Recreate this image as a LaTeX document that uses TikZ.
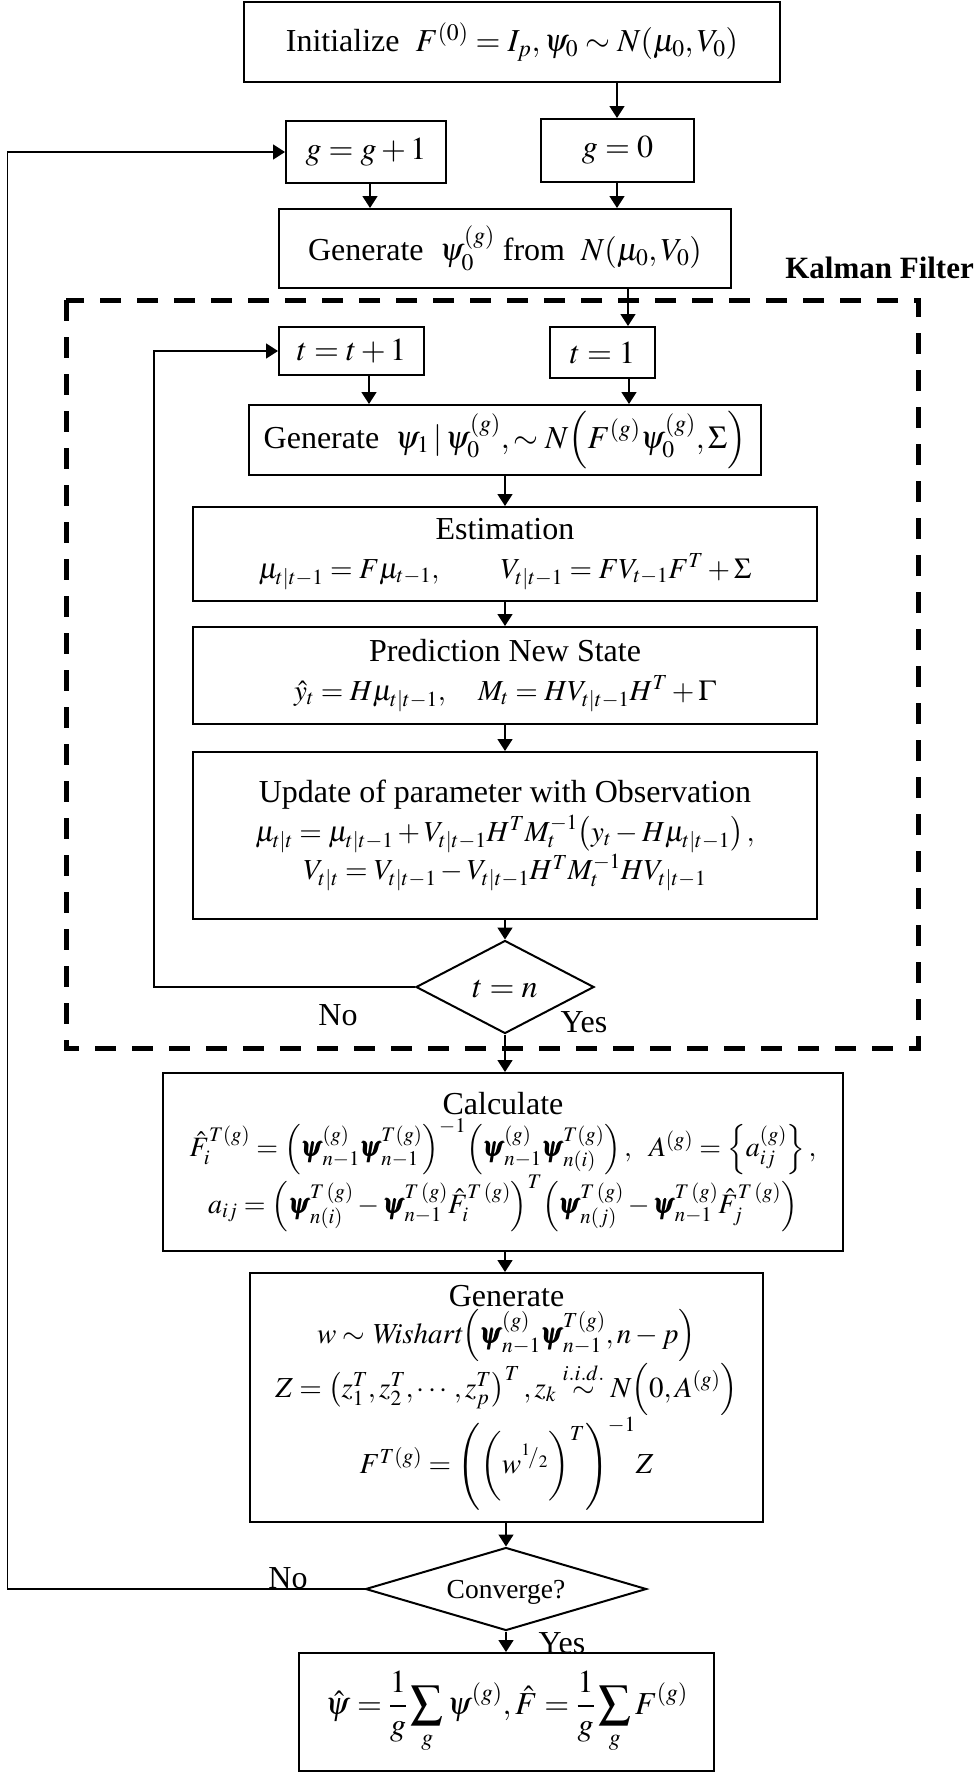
\documentclass[tikz,border=0pt]{standalone}
\usepackage{amsmath}
\usepackage{mathptmx}
\usepackage{fontspec}
\setmainfont{Liberation Serif}
\usetikzlibrary{shapes.geometric,arrows.meta}
\newcommand{\bpsi}{\pmb{\psi}}
\newcommand{\eqsize}{\fontsize{29}{35}\selectfont}
\newcommand{\calcsize}{\fontsize{28}{34}\selectfont}
\newcommand{\dtext}[1]{\smash{\makebox[0pt]{\raisebox{-0.33em}{#1}}}}
\begin{document}
\begin{tikzpicture}[x=1pt,y=-1pt,
  box/.style={draw, line width=2pt, inner sep=0pt, align=center, font=\fontsize{32}{37}\selectfont},
  dia/.style={draw, line width=2pt, diamond, inner sep=0pt, font=\fontsize{32}{37}\selectfont},
  arr/.style={line width=1.6pt, -{Triangle[length=12pt,width=15pt]}},
  lbl/.style={font=\fontsize{32}{37}\selectfont, inner sep=0pt}]
\useasboundingbox (0,0) rectangle (977,1772);
% dashed Kalman filter frame
\draw[line width=5pt, dash pattern=on 21pt off 16pt] (66,300) rectangle (918,1048);
\node[anchor=base east, inner sep=0pt, font=\fontsize{31}{36}\selectfont\bfseries] (kf) at (974,278) {Kalman Filter};
% nodes
\node[box, minimum width=536pt, minimum height=80pt] (init) at (512,42) {Initialize\ \ $F^{(0)}=I_p,\psi_0\sim N\!\left(\mu_0,V_0\right)$};
\node[box, minimum width=160pt, minimum height=62pt] (gp1) at (366,152) {$g=g+1$};
\node[box, minimum width=153pt, minimum height=63pt] (g0) at (617.5,150.5) {$g=0$};
\node[box, minimum width=452pt, minimum height=79pt] (gen0) at (505,248.5) {Generate\ \ $\psi_0^{(g)}$ from\ \ $N\!\left(\mu_0,V_0\right)$};
\node[box, minimum width=145pt, minimum height=48pt] (tp1) at (351.5,351) {$t=t+1$};
\node[box, minimum width=105pt, minimum height=51pt] (t1) at (602.5,352.5) {$t=1$};
\node[box, minimum width=512pt, minimum height=70pt] (gen1) at (505,440) {Generate\ \ $\psi_1\,|\,\psi_0^{(g)},\sim N\!\left(F^{(g)}\psi_0^{(g)},\Sigma\right)$};
\node[box, minimum width=624pt, minimum height=94pt] (est) at (505,554) {Estimation\\[2pt] {\eqsize $\mu_{t|t-1}=F\mu_{t-1},\qquad V_{t|t-1}=FV_{t-1}F^T+\Sigma$}};
\node[box, minimum width=624pt, minimum height=97pt] (pred) at (505,675.5) {Prediction New State\\[2pt] {\eqsize $\hat y_t=H\mu_{t|t-1},\quad M_t=HV_{t|t-1}H^T+\Gamma$}};
\node[box, minimum width=624pt, minimum height=167pt] (upd) at (505,835.5) {Update of parameter with Observation\\[2pt] {\eqsize $\mu_{t|t}=\mu_{t|t-1}+V_{t|t-1}H^TM_t^{-1}\!\left(y_t-H\mu_{t|t-1}\right),$}\\ {\eqsize $V_{t|t}=V_{t|t-1}-V_{t|t-1}H^TM_t^{-1}HV_{t|t-1}$}};
\node[dia, minimum width=178pt, minimum height=93pt] (tn) at (505,987) {\dtext{$t=n$}};
\node[box, minimum width=680pt, minimum height=178pt] (calc) at (503,1162) {Calculate\\[2pt] {\calcsize $\hat F_i^{T(g)}=\left(\bpsi_{n-1}^{(g)}\bpsi_{n-1}^{T(g)}\right)^{-1}\!\left(\bpsi_{n-1}^{(g)}\bpsi_{n(i)}^{T(g)}\right),\ \ A^{(g)}=\left\{a_{ij}^{(g)}\right\},$}\\ {\calcsize $a_{ij}=\left(\bpsi_{n(i)}^{T\,(g)}-\bpsi_{n-1}^{T\,(g)}\hat F_i^{T\,(g)}\right)^{T}\!\left(\bpsi_{n(j)}^{T\,(g)}-\bpsi_{n-1}^{T\,(g)}\hat F_j^{T\,(g)}\right)$}};
\node[box, minimum width=513pt, minimum height=249pt] (gen2) at (506.5,1397.5) {Generate\\ {\eqsize $w\sim \mathit{Wishart}\!\left(\bpsi_{n-1}^{(g)}\bpsi_{n-1}^{T(g)},n-p\right)$}\\ {\eqsize $Z=\left(z_1^T,z_2^T,\cdots,z_p^T\right)^T,z_k\overset{i.i.d.}{\sim}N\!\left(0,A^{(g)}\right)$}\\ {\eqsize $F^{T(g)}=\Biggl(\biggl(w^{{}^1\!/_2}\biggr)^{T}\Biggr)^{-1}Z$}};
\node[dia, minimum width=281pt, minimum height=83pt, font=\fontsize{27.5}{32}\selectfont] (conv) at (506,1589) {\dtext{Converge?}};
\node[box, minimum width=415pt, minimum height=118pt] (final) at (506.5,1712) {$\hat\psi=\dfrac{1}{g}\displaystyle\sum_g\psi^{(g)},\hat F=\dfrac{1}{g}\displaystyle\sum_g F^{(g)}$};
% labels
\node[lbl] (no1) at (338,1015) {No};
\node[lbl] (yes1) at (584,1022) {Yes};
\node[lbl] (no2) at (288,1578) {No};
\node[lbl] (yes2) at (562,1643) {Yes};
% helper x coordinates
\coordinate (xa) at (617,0);
\coordinate (xb) at (370,0);
\coordinate (xc) at (628,0);
\coordinate (xd) at (369,0);
\coordinate (xe) at (629,0);
\coordinate (xm) at (505,0);
\coordinate (xin) at (154,0);
\coordinate (xout) at (7.5,0);
% connectors
\draw[arr] (init.south -| xa) -- (g0.north -| xa);
\draw[arr] (gp1.south -| xb) -- (gen0.north -| xb);
\draw[arr] (g0.south -| xa) -- (gen0.north -| xa);
\draw[arr] (gen0.south -| xc) -- (t1.north -| xc);
\draw[arr] (tp1.south -| xd) -- (gen1.north -| xd);
\draw[arr] (t1.south -| xe) -- (gen1.north -| xe);
\draw[arr] (gen1.south -| xm) -- (est.north -| xm);
\draw[arr] (est.south -| xm) -- (pred.north -| xm);
\draw[arr] (pred.south -| xm) -- (upd.north -| xm);
\draw[arr] (upd.south -| xm) -- (tn.north);
\draw[arr] (tn.south) -- (calc.north -| tn.south);
\draw[arr] (tn.west) -- (tn.west -| xin) -- (tp1.west -| xin) -- (tp1.west);
\draw[arr] (calc.south -| xm) -- (gen2.north -| xm);
\draw[arr] (gen2.south -| conv.north) -- (conv.north);
\draw[arr] (conv.south) -- (final.north -| conv.south);
\draw[arr] (conv.west) -- (conv.west -| xout) -- (gp1.west -| xout) -- (gp1.west);
\end{tikzpicture}
\end{document}
